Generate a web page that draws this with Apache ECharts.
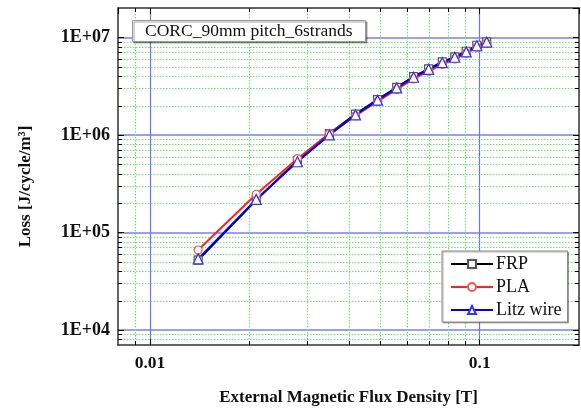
<!DOCTYPE html>
<html>
<head>
<meta charset="utf-8">
<script src="https://cdn.jsdelivr.net/npm/echarts@6/dist/echarts.min.js"></script>
<style>
  html, body { margin: 0; padding: 0; background: #fff; }
  #lossChart { width: 581px; height: 411px; }
</style>
</head>
<body>
<div id="lossChart"></div>
<script>
// 外部磁场 [T]
const field = [0.014, 0.021, 0.028, 0.035, 0.042, 0.049, 0.056, 0.063, 0.070, 0.077, 0.084, 0.091, 0.098, 0.105];
// 损耗 [J/cycle/m3]
const frpLoss = [52000, 215000, 545000, 1030000, 1630000, 2300000, 3070000, 3950000, 4750000, 5600000, 6300000, 7200000, 8300000, 9000000];
const plaLoss = [66000, 246000, 570000, 1030000, 1570000, 2200000, 2920000, 3750000, 4500000, 5300000, 6000000, 6900000, 7900000, 8700000];
const litzLoss = [53500, 218000, 530000, 1000000, 1600000, 2270000, 3030000, 3900000, 4700000, 5500000, 6250000, 7100000, 8200000, 8950000];

const seriesNames = ['FRP', 'PLA', 'Litz wire'];

// axis range and minor grid positions
const xMin = 0.008;
const xMax = 0.2;
const yMin = 7000;
const yMax = 20000000;
const minorX = [0.009, 0.02, 0.03, 0.04, 0.05, 0.06, 0.07, 0.08, 0.09];
const minorY = [8000, 9000,
  20000, 30000, 40000, 50000, 60000, 70000, 80000, 90000,
  200000, 300000, 400000, 500000, 600000, 700000, 800000, 900000,
  2000000, 3000000, 4000000, 5000000, 6000000, 7000000, 8000000, 9000000];

const serif = 'Liberation Serif';

function isDecade(v) {
  const e = Math.log10(v);
  return Math.abs(e - Math.round(e)) < 1e-6;
}

const chart = echarts.init(document.getElementById('lossChart'));

const baseX = {
  type: 'log',
  logBase: 10,
  min: xMin,
  max: xMax,
  axisLine: { show: true, onZero: false, lineStyle: { color: '#333', width: 1.5 } },
  axisTick: { show: true, inside: true, length: 6, lineStyle: { color: '#000' } },
  splitLine: { show: true, showMinLine: false, showMaxLine: false, lineStyle: { color: '#7070ff', width: 1.2 } },
};
const baseY = {
  type: 'log',
  logBase: 10,
  min: yMin,
  max: yMax,
  axisLine: { show: true, onZero: false, lineStyle: { color: '#333', width: 1.5 } },
  axisTick: { show: true, inside: true, length: 6, lineStyle: { color: '#000' } },
  splitLine: { show: true, showMinLine: false, showMaxLine: false, lineStyle: { color: '#9c9cff', width: 2 } },
};

// 次刻度 + 虚线网格
function minorRender(dir) {
  return function (params, api) {
    const cs = params.coordSys;
    const p = api.coord([api.value(0), api.value(1)]);
    const dash = { stroke: '#5cf55c', lineWidth: 1, lineDash: [1.5, 1.5] };
    const tick = { stroke: '#000', lineWidth: 1 };
    if (dir === 'x') {
      const x = Math.round(p[0]) + 0.5;
      return {
        type: 'group',
        children: [
          { type: 'line', shape: { x1: x, y1: cs.y, x2: x, y2: cs.y + cs.height }, style: dash },
          { type: 'line', shape: { x1: x, y1: cs.y + cs.height, x2: x, y2: cs.y + cs.height - 4 }, style: tick },
          { type: 'line', shape: { x1: x, y1: cs.y, x2: x, y2: cs.y + 4 }, style: tick },
        ],
      };
    }
    const y = Math.round(p[1]) + 0.5;
    return {
      type: 'group',
      children: [
        { type: 'line', shape: { x1: cs.x, y1: y, x2: cs.x + cs.width, y2: y }, style: dash },
        { type: 'line', shape: { x1: cs.x, y1: y, x2: cs.x + 4, y2: y }, style: tick },
        { type: 'line', shape: { x1: cs.x + cs.width, y1: y, x2: cs.x + cs.width - 4, y2: y }, style: tick },
      ],
    };
  };
}

function lineSeries(name, values, color, symbol, border) {
  return {
    name,
    type: 'line',
    z: 5,
    data: field.map((b, i) => [b, values[i]]),
    symbol,
    symbolSize: symbol === 'triangle' ? 10 : 8,
    lineStyle: { color, width: 2 },
    itemStyle: { color: '#fff', borderColor: border, borderWidth: 1.2 },
  };
}

const option = {
  animation: false,
  backgroundColor: '#fff',
  title: {
    text: 'CORC_90mm pitch_6strands',
    left: 132,
    top: 20,
    padding: [2, 13, 2, 13],
    backgroundColor: '#fff',
    borderColor: '#999',
    borderWidth: 1,
    shadowColor: 'rgba(0,0,0,0.35)',
    shadowOffsetX: 1.5,
    shadowOffsetY: 1.5,
    textStyle: { fontFamily: serif, fontSize: 17.5, fontWeight: 'normal', color: '#111' },
  },
  legend: {
    data: seriesNames,
    orient: 'vertical',
    left: 442,
    top: 251,
    padding: [4, 6, 3, 8],
    itemWidth: 42,
    itemHeight: 10,
    itemGap: 5,
    backgroundColor: '#fff',
    borderColor: '#888',
    borderWidth: 1,
    shadowColor: 'rgba(0,0,0,0.3)',
    shadowOffsetX: 1,
    shadowOffsetY: 1,
    textStyle: { fontFamily: serif, fontSize: 18, color: '#111', padding: [0, 0, 0, -2] },
  },
  grid: { left: 118, top: 8, right: 2, bottom: 60, containLabel: false },
  xAxis: [
    Object.assign({}, baseX, {
      position: 'bottom',
      name: 'External Magnetic Flux Density [T]',
      nameLocation: 'middle',
      nameGap: 44,
      nameTextStyle: { fontFamily: serif, fontSize: 17, fontWeight: 'bold', color: '#111' },
      axisLabel: {
        margin: 9,
        fontFamily: serif,
        fontSize: 17.5,
        fontWeight: 'bold',
        color: '#111',
        showMinLabel: false,
        showMaxLabel: false,
        formatter: v => (isDecade(v) ? String(+v.toPrecision(1)) : ''),
      },
    }),
    Object.assign({}, baseX, { position: 'top', axisLabel: { show: false }, splitLine: { show: false } }),
  ],
  yAxis: [
    Object.assign({}, baseY, {
      position: 'left',
      name: 'Loss [J/cycle/m³]',
      nameLocation: 'middle',
      nameRotate: 90,
      nameGap: 84,
      nameTextStyle: { fontFamily: serif, fontSize: 17, fontWeight: 'bold', color: '#111', padding: [0, 20, 0, 0] },
      axisLabel: {
        margin: 8,
        fontFamily: serif,
        fontSize: 18,
        fontWeight: 'bold',
        color: '#111',
        showMinLabel: false,
        showMaxLabel: false,
        formatter: v => (isDecade(v) ? '1E+' + String(Math.round(Math.log10(v))).padStart(2, '0') : ''),
      },
    }),
    Object.assign({}, baseY, { position: 'right', axisLabel: { show: false }, splitLine: { show: false } }),
  ],
  series: [
    {
      type: 'custom',
      silent: true,
      z: 1,
      renderItem: minorRender('x'),
      data: minorX.map(v => [v, yMin]),
    },
    {
      type: 'custom',
      silent: true,
      z: 1,
      renderItem: minorRender('y'),
      data: minorY.map(v => [xMin, v]),
    },
    lineSeries('FRP', frpLoss, '#000', 'rect', '#555'),
    lineSeries('PLA', plaLoss, '#ff2020', 'circle', '#ff5050'),
    lineSeries('Litz wire', litzLoss, '#0000ff', 'triangle', '#3030ff'),
  ],
};

chart.setOption(option);
</script>
</body>
</html>
